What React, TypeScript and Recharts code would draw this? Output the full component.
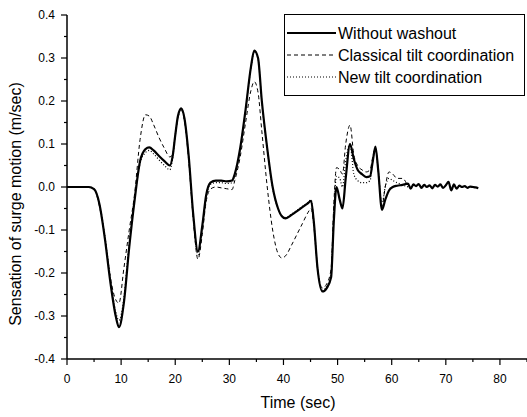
import { LineChart, Line, XAxis, YAxis } from "recharts";

// time axis (sec)
const times = [
  0, 2, 4, 5, 6, 7, 8, 9, 9.6, 10.5,
  11.5, 12.5, 13.5, 14.5, 15.2, 16, 17, 18, 19, 19.5,
  20, 20.5, 21.1, 21.7, 22.5, 23.3, 24.2, 25, 25.7, 26.5,
  27.5, 28.5, 29.5, 30.5, 31, 32, 33, 34, 34.6, 35.3,
  36, 37, 38, 39, 39.7, 40.4, 41.5, 42.5, 43.5, 44.5,
  45.1, 45.6, 46.3, 47.2, 48, 48.8, 49.3, 49.8, 50.4, 50.9,
  51.5, 52.3, 53, 53.7, 54.5, 55.3, 56, 56.5, 57, 57.5,
  58.2, 58.8, 59.5, 60.2, 61, 62,
  63, 63.5, 64, 64.5, 65, 65.5, 66, 66.5, 67, 67.5,
  68, 68.5, 69, 69.5, 70, 70.5, 71, 71.5, 72, 72.5,
  73, 73.5, 74, 74.5, 75, 75.5, 76,
];

const withoutWashout = [
  0, 0, 0, -0.005, -0.04, -0.12, -0.22, -0.3, -0.326, -0.27,
  -0.14, -0.03, 0.06, 0.088, 0.092, 0.085, 0.072, 0.06, 0.05, 0.07,
  0.12, 0.165, 0.183, 0.16, 0.07, -0.06, -0.15, -0.09, -0.02, 0.01,
  0.015, 0.015, 0.013, 0.015, 0.03, 0.09, 0.18, 0.28, 0.317, 0.3,
  0.2, 0.09, 0.0, -0.05, -0.068, -0.073, -0.065, -0.056, -0.047, -0.038,
  -0.032, -0.08, -0.19, -0.243, -0.235, -0.21, -0.08, 0.0, -0.03, -0.05,
  0.02, 0.1, 0.065, 0.04, 0.03, 0.023, 0.025, 0.06, 0.094, 0.04,
  -0.053, -0.03, -0.008, 0.0, 0.003, 0.005,
  0.008, -0.004, 0.006, 0.002, 0.007, -0.002, 0.005, 0.0, 0.004, -0.003,
  0.005, 0.001, 0.006, -0.002, 0.004, 0.012, -0.008, 0.006, -0.004, 0.003,
  0.0, 0.002, -0.002, 0.001, 0.0, -0.001, -0.003,
];

const classicalTilt = [
  0, 0, 0, -0.005, -0.045, -0.12, -0.21, -0.262, -0.27, -0.19,
  -0.1, -0.015, 0.11, 0.168, 0.165, 0.145, 0.115, 0.09, 0.07, 0.075,
  0.12, 0.16, 0.178, 0.155, 0.06, -0.07, -0.168, -0.11, -0.035, -0.005,
  0.0, -0.002, -0.004, -0.006, 0.015, 0.07, 0.15, 0.225, 0.245, 0.22,
  0.13, 0.0, -0.1, -0.155, -0.165, -0.16, -0.135, -0.11, -0.085, -0.06,
  -0.05, -0.09, -0.19, -0.235, -0.225, -0.19, -0.04, 0.045, 0.04, 0.03,
  0.1, 0.144, 0.075, 0.05, 0.04, 0.035, 0.04, 0.07, 0.09, 0.04,
  -0.045, 0.0, 0.035, 0.03, 0.02, 0.02,
  0, null, null, null, null, null, null, null, null, null,
  null, null, null, null, null, null, null, null, null, null,
  null, null, null, null, null, null, null,
];

const newTilt = [
  0, 0, 0, -0.005, -0.04, -0.115, -0.21, -0.29, -0.31, -0.26,
  -0.13, -0.025, 0.055, 0.08, 0.085, 0.077, 0.063, 0.05, 0.04, 0.065,
  0.12, 0.163, 0.182, 0.158, 0.068, -0.065, -0.158, -0.095, -0.025, 0.006,
  0.01, 0.01, 0.008, 0.01, 0.028, 0.088, 0.178, 0.278, 0.315, 0.298,
  0.198, 0.088, -0.002, -0.05, -0.067, -0.071, -0.063, -0.054, -0.045, -0.036,
  -0.03, -0.078, -0.188, -0.24, -0.232, -0.205, -0.06, 0.025, 0.02, 0.0,
  0.06, 0.1, 0.03, 0.015, 0.01, 0.01, 0.015, 0.06, 0.09, 0.04,
  -0.04, 0.0, 0.02, 0.015, 0.01, 0.005,
  0, null, null, null, null, null, null, null, null, null,
  null, null, null, null, null, null, null, null, null, null,
  null, null, null, null, null, null, null,
];

// ticks (minor ones get no label)
const xTicks = [0, 5, 10, 15, 20, 25, 30, 35, 40, 45, 50, 55, 60, 65, 70, 75, 80, 85];
const yTicks = [-0.4, -0.35, -0.3, -0.25, -0.2, -0.15, -0.1, -0.05, 0, 0.05, 0.1, 0.15, 0.2, 0.25, 0.3, 0.35, 0.4];

const legendItems = [
  { name: "Without washout", dash: undefined, width: 2.2 },
  { name: "Classical tilt coordination", dash: "4 3", width: 1 },
  { name: "New tilt coordination", dash: "1 2", width: 1.2 },
];

const data = times.map((t, i) => ({
  t,
  without: withoutWashout[i],
  classical: classicalTilt[i],
  newTilt: newTilt[i],
}));

const font = "'Liberation Sans', Arial, sans-serif";

function XTick(props: any) {
  const { x, y, payload } = props;
  const major = payload.value % 10 === 0;
  return (
    <g>
      <line x1={x} x2={x} y1={y} y2={y + (major ? 6 : 3)} stroke="#000" strokeWidth={1.2} />
      {major && payload.value <= 80 && (
        <text x={x} y={y + 24} textAnchor="middle" fontSize={12} fontFamily={font} fill="#000">
          {payload.value}
        </text>
      )}
    </g>
  );
}

function YTick(props: any) {
  const { x, y, payload } = props;
  const v = payload.value;
  const major = Math.abs(v * 10 - Math.round(v * 10)) < 1e-6;
  return (
    <g>
      <line x1={x - (major ? 6 : 3)} x2={x} y1={y} y2={y} stroke="#000" strokeWidth={1.2} />
      {major && (
        <text x={x - 12} y={y + 4} textAnchor="end" fontSize={12} fontFamily={font} fill="#000">
          {v.toFixed(1)}
        </text>
      )}
    </g>
  );
}

function LegendBox() {
  return (
    <svg width={241} height={82} style={{ display: "block" }}>
      <rect x={0.5} y={0.5} width={240} height={81} fill="#fff" stroke="#000" strokeWidth={1} />
      {legendItems.map((item, i) => {
        const cy = 19 + i * 22;
        return (
          <g key={item.name}>
            <line x1={3} x2={52} y1={cy} y2={cy} stroke="#000" strokeWidth={item.width} strokeDasharray={item.dash} />
            <text x={54} y={cy + 6} fontSize={16} fontFamily={font} fill="#000">
              {item.name}
            </text>
          </g>
        );
      })}
    </svg>
  );
}

export default function App() {
  return (
    <div style={{ position: "absolute", left: 0, top: 0, width: 527, height: 417, background: "#fff", overflow: "hidden" }}>
      <LineChart width={527} height={417} data={data} margin={{ top: 15, right: 0, left: 0, bottom: 0 }}>
        <XAxis
          dataKey="t"
          type="number"
          domain={[0, 85]}
          ticks={xTicks}
          interval={0}
          tick={<XTick />}
          tickLine={false}
          tickSize={0}
          tickMargin={0}
          height={58}
          axisLine={{ stroke: "#000", strokeWidth: 1.5 }}
          label={({ viewBox }: any) => (
            <text
              x={viewBox.x + 231}
              y={viewBox.y + 49}
              textAnchor="middle"
              fontSize={16}
              fontFamily={font}
              fill="#000"
            >
              Time (sec)
            </text>
          )}
        />
        <YAxis
          type="number"
          domain={[-0.4, 0.4]}
          ticks={yTicks}
          interval={0}
          tick={<YTick />}
          tickLine={false}
          tickSize={0}
          tickMargin={0}
          width={67}
          axisLine={{ stroke: "#000", strokeWidth: 1.5 }}
          label={({ viewBox }: any) => {
            const cx = viewBox.x + 21;
            const cy = viewBox.y + viewBox.height / 2 + 17;
            return (
              <text
                x={cx}
                y={cy}
                transform={`rotate(-90, ${cx}, ${cy})`}
                textAnchor="middle"
                fontSize={16}
                fontFamily={font}
                fill="#000"
              >
                Sensation of surge motion (m/sec)
              </text>
            );
          }}
        />
        <Line
          type="monotone"
          dataKey="classical"
          stroke="#000"
          strokeWidth={1}
          strokeDasharray="4 3"
          dot={false}
          isAnimationActive={false}
        />
        <Line
          type="monotone"
          dataKey="newTilt"
          stroke="#000"
          strokeWidth={1.2}
          strokeDasharray="1 2"
          dot={false}
          isAnimationActive={false}
        />
        <Line
          type="monotone"
          dataKey="without"
          stroke="#000"
          strokeWidth={2.2}
          dot={false}
          isAnimationActive={false}
        />
      </LineChart>
      <div style={{ position: "absolute", left: 284, top: 14 }}>
        <LegendBox />
      </div>
    </div>
  );
}
